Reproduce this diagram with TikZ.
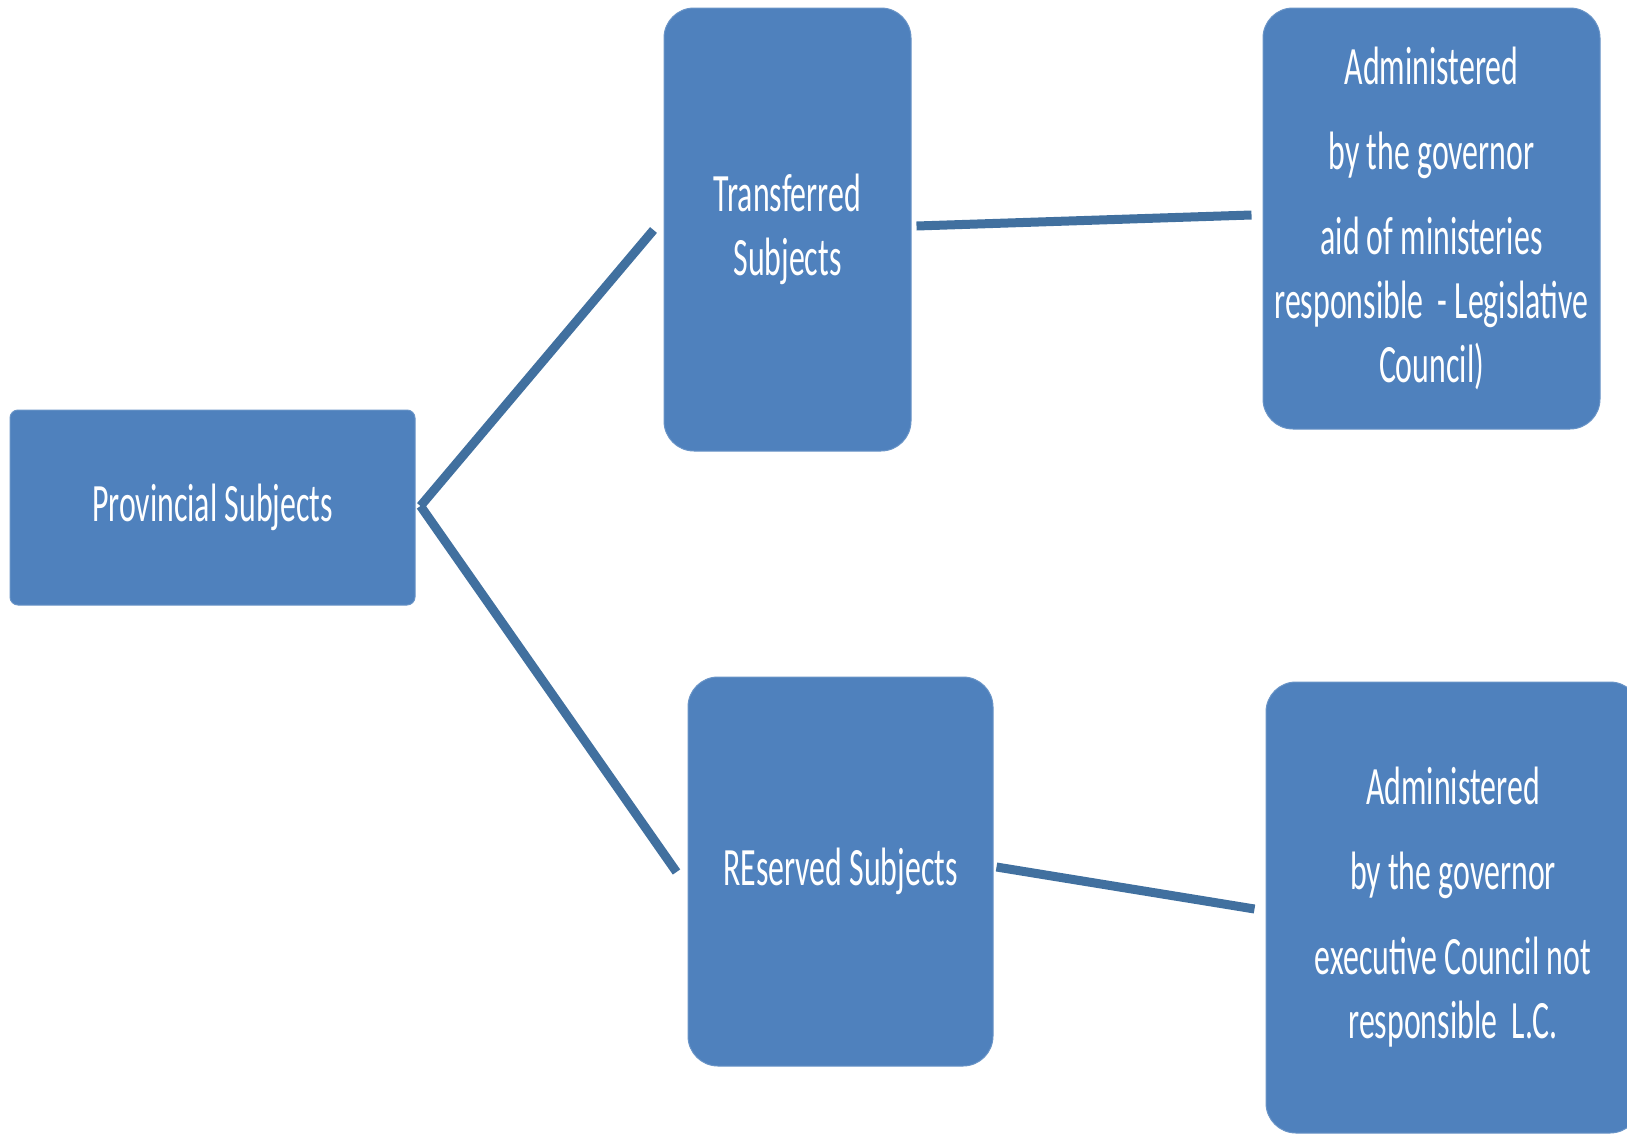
\documentclass[tikz,border=0pt]{standalone}
\usepackage{fontspec}
\setmainfont[FakeStretch=0.59]{Carlito}
\definecolor{boxblue}{HTML}{4F81BD}
\definecolor{lineblue}{HTML}{41709F}
\begin{document}
\begin{tikzpicture}[x=1pt,y=-1pt,
  box/.style={fill=boxblue, draw=boxblue!85!white, line width=1pt, text=white,
    align=center, inner sep=0pt, font=\fontsize{54}{64}\selectfont},
  conn/.style={draw=lineblue, line width=9pt}]
\useasboundingbox (0,0) rectangle (1627,1135);
\clip (0,0) rectangle (1627,1135);
\node[box, rounded corners=8pt, minimum width=405pt, minimum height=195pt] (prov) at (212.5,507.5) {Provincial Subjects};
\node[box, rounded corners=30pt, minimum width=247pt, minimum height=443pt] (trans) at (787.5,229.5) {Transferred\\Subjects};
\node[box, rounded corners=30pt, minimum width=337pt, minimum height=421pt] (tadm) at (1431.5,218.5) {Administered\\[21pt]by the governor\\[21pt]aid of ministeries\\responsible\ \ - Legislative\\Council)};
\node[box, rounded corners=30pt, minimum width=305pt, minimum height=389pt] (res) at (840.5,871.5) {REserved Subjects};
\node[box, rounded corners=30pt, minimum width=374pt, minimum height=451pt] (radm) at (1453,907.5) {Administered\\[21pt]by the governor\\[21pt]executive Council not\\responsible\ \ L.C.};
\coordinate (apex) at ([xshift=5pt,yshift=1.5pt]prov.east);
\draw[conn] (apex) -- ([xshift=-10pt,yshift=-0.5pt]trans.west);
\draw[conn] (apex) -- ([xshift=-11pt,yshift=-0.5pt]res.west);
\draw[conn] ([xshift=5pt,yshift=3.5pt]trans.east) -- ([xshift=-11pt,yshift=3.5pt]tadm.west);
\draw[conn] ([xshift=3pt,yshift=4.5pt]res.east) -- ([xshift=-11pt,yshift=-1.5pt]radm.west);
\end{tikzpicture}
\end{document}
